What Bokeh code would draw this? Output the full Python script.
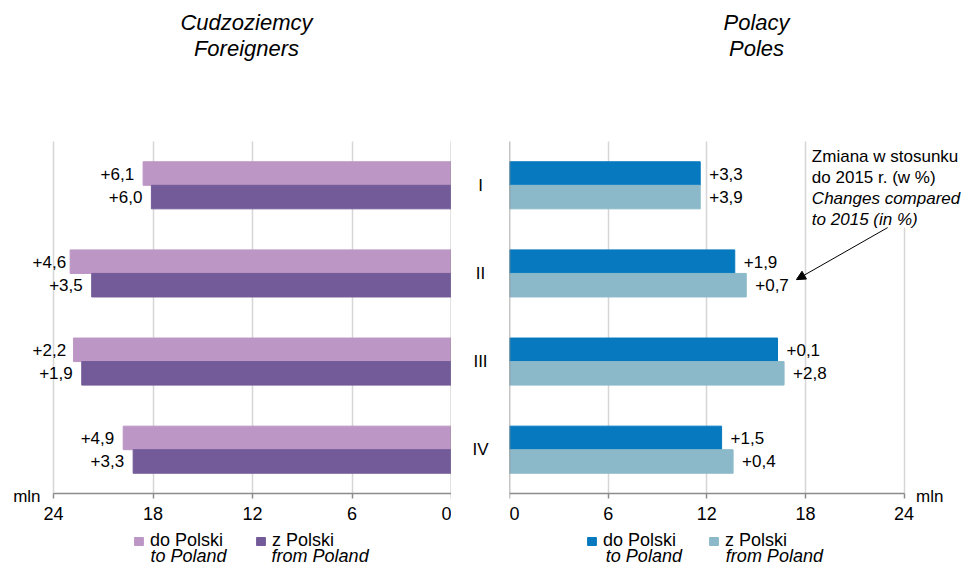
from bokeh.plotting import figure
from bokeh.layouts import row, column
from bokeh.models import (ColumnDataSource, FactorRange, Range1d, Label, LabelSet,
                          Legend, LegendItem, Arrow, NormalHead, BoxAnnotation)
from bokeh.transform import dodge
from bokeh.core.properties import value
from bokeh.embed import file_html
from bokeh.resources import INLINE

# ---------------- data ----------------
quarters = ["I", "II", "III", "IV"]
foreigners_to = [18.6, 23.0, 22.8, 19.8]
foreigners_from = [18.1, 21.7, 22.3, 19.2]
foreigners_to_chg = ["+6,1", "+4,6", "+2,2", "+4,9"]
foreigners_from_chg = ["+6,0", "+3,5", "+1,9", "+3,3"]
poles_to = [11.6, 13.7, 16.3, 12.9]
poles_from = [11.6, 14.4, 16.7, 13.6]
poles_to_chg = ["+3,3", "+1,9", "+0,1", "+1,5"]
poles_from_chg = ["+3,9", "+0,7", "+2,8", "+0,4"]
x_ticks = [0, 6, 12, 18, 24]
title_left = ["Cudzoziemcy", "Foreigners"]
title_right = ["Polacy", "Poles"]
note_pl = ["Zmiana w stosunku", "do 2015 r. (w %)"]
note_en = ["Changes compared", "to 2015 (in %)"]
legend_pl = ["do Polski", "z Polski"]
legend_en = ["to Poland", "from Poland"]
unit = "mln"

FONT = "Liberation Sans"
C_F_TO, C_F_FROM = "#bc96c4", "#735b99"
C_P_TO, C_P_FROM = "#0779bf", "#8cb9ca"
GRID = "#d6d6d6"
AXIS = "#8c8c8c"

NQ = len(quarters)
XMAX = max(x_ticks)
LABEL_LIMIT = 22.7   # data labels are kept inside the chart area
y_range = FactorRange(factors=quarters[::-1], range_padding=0.814,
                      range_padding_units="absolute")
OFF = 0.1335
H = 0.267

common = dict(height=496, y_range=y_range, output_backend="svg", toolbar_location=None,
              min_border_top=0, min_border_bottom=0, outline_line_color=None)


def style_axes(p):
    ax = p.xaxis[0]
    ax.fixed_location = 0
    ax.bounds = (0, XMAX)
    ax.ticker = x_ticks
    ax.axis_line_color = AXIS
    ax.axis_line_width = 1.5
    ax.major_tick_line_color = AXIS
    ax.major_tick_line_width = 1.5
    ax.major_tick_in = 0
    ax.major_tick_out = 5
    ax.minor_tick_line_color = None
    ax.major_label_standoff = 8
    ax.major_label_text_font = FONT
    ax.major_label_text_font_size = "18px"
    ax.major_label_text_color = "black"
    ay = p.yaxis[0]
    ay.fixed_location = 0
    ay.bounds = (0, NQ)
    ay.axis_line_color = AXIS
    ay.axis_line_width = 1.5
    ay.major_tick_line_color = None
    ay.minor_tick_line_color = None
    ay.major_label_text_font_size = "0px"
    ay.major_label_text_color = None
    p.xgrid.ticker = x_ticks
    p.xgrid.cross_bounds = (0, NQ)
    p.xgrid.grid_line_color = GRID
    p.xgrid.grid_line_width = 1.5
    p.ygrid.grid_line_color = None


def panel(p, to, frm, to_chg, frm_chg, c_to, c_from, sign):
    src = ColumnDataSource(dict(q=quarters, to=to, frm=frm, to_chg=to_chg, frm_chg=frm_chg,
                                to_lab=[min(v, LABEL_LIMIT) for v in to],
                                frm_lab=[min(v, LABEL_LIMIT) for v in frm]))
    r_to = p.hbar(y=dodge("q", OFF, range=y_range), left=0, right="to", height=H,
                  color=c_to, source=src)
    r_from = p.hbar(y=dodge("q", -OFF, range=y_range), left=0, right="frm", height=H,
                    color=c_from, source=src)
    align = "right" if sign < 0 else "left"
    for col, lab, off in (("to_lab", "to_chg", OFF), ("frm_lab", "frm_chg", -OFF)):
        p.add_layout(LabelSet(x=col, y=dodge("q", off, range=y_range), text=lab, source=src,
                              x_offset=9 * sign, text_align=align, text_baseline="middle",
                              text_font=value(FONT), text_font_size="17px",
                              text_color="black"))
    return r_to, r_from


# ---------------- titles row ----------------
tfig = figure(width=972, height=69, x_range=Range1d(0, 972), y_range=Range1d(0, 69),
              output_backend="svg", toolbar_location=None, x_axis_location=None,
              y_axis_location=None, outline_line_color=None, min_border=0)
tfig.xgrid.grid_line_color = None
tfig.ygrid.grid_line_color = None
for cx, lines in ((246, title_left), (756, title_right)):
    for cy, t in zip((47, 21), lines):
        tfig.add_layout(Label(x=cx, y=cy, text=t, text_align="center", text_baseline="middle",
                              text_font=FONT, text_font_size="22px",
                              text_font_style="italic", text_color="black"))

# ---------------- left: foreigners ----------------
left = figure(width=451, x_range=Range1d(27.2, 0), min_border_left=0, min_border_right=0,
              y_axis_location="right", **common)
style_axes(left)
lt, lf = panel(left, foreigners_to, foreigners_from, foreigners_to_chg, foreigners_from_chg,
               C_F_TO, C_F_FROM, -1)

# ---------------- middle: category labels ----------------
mid = figure(width=58, x_range=Range1d(0, 1), min_border_left=0, min_border_right=0,
             x_axis_location=None, y_axis_location=None, **common)
mid.xgrid.grid_line_color = None
mid.ygrid.grid_line_color = None
mid.text(x=[0.5] * NQ, y=quarters, text=quarters, text_align="center",
         text_baseline="middle", text_font=value(FONT), text_font_size="17px",
         text_color="black")

# ---------------- right: Poles ----------------
right = figure(width=463, x_range=Range1d(0, 28.16), min_border_left=0, min_border_right=0,
               y_axis_location="left", **common)
style_axes(right)
rt, rf = panel(right, poles_to, poles_from, poles_to_chg, poles_from_chg, C_P_TO, C_P_FROM, 1)

# unit labels
unit_kw = dict(y=0, y_offset=-3, text_baseline="middle", text_font=FONT,
               text_font_size="17px", text_color="black")
left.add_layout(Label(x=XMAX, x_offset=-13, text_align="right", text=unit, **unit_kw))
right.add_layout(Label(x=XMAX, x_offset=12, text_align="left", text=unit, **unit_kw))

# note with arrow
right.add_layout(BoxAnnotation(left=18.3, right=28.2, bottom=3.02, top=4.2,
                               fill_color="white", fill_alpha=1, line_color=None))
note_lines = [(note_pl[0], "normal", 3.824), (note_pl[1], "normal", 3.586),
              (note_en[0], "italic", 3.353), (note_en[1], "italic", 3.115)]
for t, style, yy in note_lines:
    right.add_layout(Label(x=18.39, y=yy, text=t, text_align="left", text_baseline="middle",
                           text_font=FONT, text_font_size="17px", text_font_style=style,
                           text_color="black"))
right.add_layout(Arrow(x_start=23.0, y_start=3.02, x_end=17.45, y_end=2.43,
                       line_color="black", line_width=1,
                       end=NormalHead(size=9, fill_color="black", line_color="black")))


# legends
def add_legend(p, r_to, r_from, xloc, x_en):
    leg = Legend(items=[LegendItem(label=legend_pl[0], renderers=[r_to]),
                        LegendItem(label=legend_pl[1], renderers=[r_from])],
                 orientation="horizontal", location=(xloc, 14), glyph_width=11,
                 glyph_height=10, label_standoff=6, spacing=32, padding=0, margin=0,
                 border_line_color=None, background_fill_alpha=0,
                 label_text_font=FONT, label_text_font_size="18px",
                 label_text_color="black")
    p.add_layout(leg)
    for xx, t in zip(x_en, legend_en):
        p.add_layout(Label(x=xx, y=-0.71, text=t, text_align="left", text_baseline="middle",
                           text_font=FONT, text_font_size="18px", text_font_style="italic",
                           text_color="black"))


add_legend(left, lt, lf, 133, [18.15, 10.85])
add_legend(right, rt, rf, 77, [5.86, 13.16])

layout = column(tfig, row(left, mid, right))
open("out.html", "w").write(file_html(layout, INLINE))
